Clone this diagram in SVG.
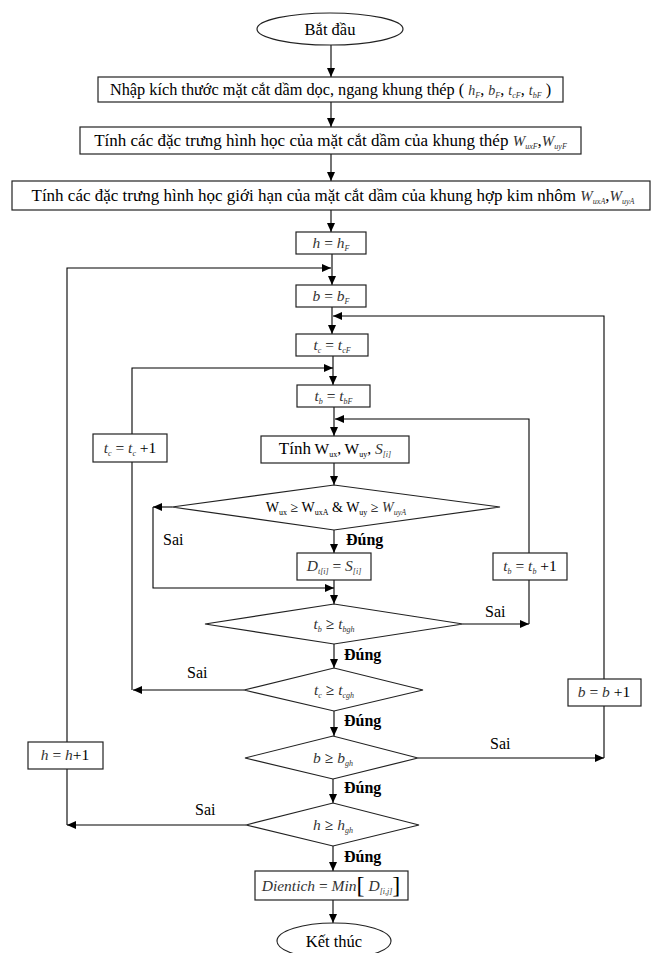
<svg xmlns="http://www.w3.org/2000/svg" width="654" height="953" viewBox="0 0 654 953">
<style>
.t{font-family:"Liberation Serif","Times New Roman",serif;font-size:15.5px;fill:#000}
.big{font-size:17px}
.c{text-anchor:middle}
.m{font-style:italic;fill:#333}
.mm{font-size:15px}
.s{font-size:8px}
.lb{font-family:"Liberation Serif","Times New Roman",serif;font-size:16px;fill:#000}
.b{font-weight:bold}
.n{fill:#fff;stroke:#222;stroke-width:1.2}
.e{fill:none;stroke:#000;stroke-width:1.1}
</style>
<defs>
<marker id="a" markerUnits="userSpaceOnUse" markerWidth="10" markerHeight="8" refX="9" refY="4" orient="auto">
<path d="M0,0 L9,4 L0,8 Z" fill="#000"/>
</marker>
</defs>
<g id="connectors">
<path class="e" d="M331,45 V77" marker-end="url(#a)"/>
<path class="e" d="M331,102 V127" marker-end="url(#a)"/>
<path class="e" d="M331,154 V181" marker-end="url(#a)"/>
<path class="e" d="M331,210 V232" marker-end="url(#a)"/>
<path class="e" d="M332,254 V285" marker-end="url(#a)"/>
<path class="e" d="M332,307 V334" marker-end="url(#a)"/>
<path class="e" d="M333,356 V385" marker-end="url(#a)"/>
<path class="e" d="M334,407 V436" marker-end="url(#a)"/>
<path class="e" d="M334,463 V485" marker-end="url(#a)"/>
<path class="e" d="M334,530 V553" marker-end="url(#a)"/>
<path class="e" d="M334,580 V604" marker-end="url(#a)"/>
<path class="e" d="M334,644 V668" marker-end="url(#a)"/>
<path class="e" d="M334,711 V736" marker-end="url(#a)"/>
<path class="e" d="M333,779 V803" marker-end="url(#a)"/>
<path class="e" d="M333,846 V871" marker-end="url(#a)"/>
<path class="e" d="M333,900 V923" marker-end="url(#a)"/>
<path class="e" d="M67,742 V268 H331" marker-end="url(#a)"/>
<path class="e" d="M246,825 H67" marker-end="url(#a)"/>
<path class="e" d="M67,825 V769"/>
<path class="e" d="M604,679 V316 H333" marker-end="url(#a)"/>
<path class="e" d="M418,758 H604" marker-end="url(#a)"/>
<path class="e" d="M604,758 V706"/>
<path class="e" d="M529,553 V419 H335" marker-end="url(#a)"/>
<path class="e" d="M463,624 H529" marker-end="url(#a)"/>
<path class="e" d="M529,624 V580"/>
<path class="e" d="M132,434 V368 H333" marker-end="url(#a)"/>
<path class="e" d="M244,690 H133" marker-end="url(#a)"/>
<path class="e" d="M132,690 V462"/>
<path class="e" d="M172,507 H153" marker-end="url(#a)"/>
<path class="e" d="M153,507 V588 H334" marker-end="url(#a)"/>
<text class="lb" x="163" y="545">Sai</text>
<text class="lb b" x="346" y="545">Đúng</text>
<text class="lb" x="485" y="617">Sai</text>
<text class="lb b" x="344" y="660">Đúng</text>
<text class="lb" x="187" y="678">Sai</text>
<text class="lb b" x="344" y="726">Đúng</text>
<text class="lb" x="490" y="749">Sai</text>
<text class="lb b" x="344" y="793">Đúng</text>
<text class="lb" x="195" y="815">Sai</text>
<text class="lb b" x="344" y="862">Đúng</text>
</g>
<g id="start">
<ellipse class="n" cx="330" cy="29" rx="73" ry="16"/>
<text class="t c" x="330" y="35" style="font-size:16.5px">Bắt đầu</text>
</g>
<g id="input">
<rect class="n" x="98" y="77" width="465" height="25"/>
<text class="t c" x="330.5" y="95" style="font-size:16.3px">Nhập kích thước mặt cắt dầm dọc, ngang khung thép ( <tspan class="m" style="font-size:14px">h</tspan><tspan class="m s" dy="3">F</tspan><tspan dy="-3">, </tspan><tspan class="m" style="font-size:14px">b</tspan><tspan class="m s" dy="3">F</tspan><tspan dy="-3">, </tspan><tspan class="m" style="font-size:14px">t</tspan><tspan class="m s" dy="3">cF</tspan><tspan dy="-3">, </tspan><tspan class="m" style="font-size:14px">t</tspan><tspan class="m s" dy="3">bF</tspan><tspan dy="-3">  )</tspan></text>
</g>
<g id="calc-steel">
<rect class="n" x="80" y="127" width="501" height="27"/>
<text class="t big c" x="330.5" y="146">Tính các đặc trưng hình học của mặt cắt dầm của khung thép <tspan class="m mm">W</tspan><tspan class="m s" dy="3">uxF</tspan><tspan dy="-3">,</tspan><tspan class="m mm">W</tspan><tspan class="m s" dy="3">uyF</tspan></text>
</g>
<g id="calc-alu">
<rect class="n" x="12" y="181" width="638" height="29"/>
<text class="t big c" x="333" y="201">Tính các đặc trưng hình học giới hạn của mặt cắt dầm của khung hợp kim nhôm <tspan class="m mm">W</tspan><tspan class="m s" dy="3">uxA</tspan><tspan dy="-3">,</tspan><tspan class="m mm">W</tspan><tspan class="m s" dy="3">uyA</tspan></text>
</g>
<g id="h-init">
<rect class="n" x="296" y="232" width="70" height="22"/>
<text class="t c" x="331" y="248"><tspan class="m">h</tspan> = <tspan class="m">h</tspan><tspan class="m s" dy="3">F</tspan></text>
</g>
<g id="b-init">
<rect class="n" x="296" y="285" width="70" height="22"/>
<text class="t c" x="331" y="301"><tspan class="m">b</tspan> = <tspan class="m">b</tspan><tspan class="m s" dy="3">F</tspan></text>
</g>
<g id="tc-init">
<rect class="n" x="296" y="334" width="72" height="22"/>
<text class="t c" x="332" y="350"><tspan class="m">t</tspan><tspan class="m s" dy="3">c</tspan><tspan dy="-3"> = </tspan><tspan class="m">t</tspan><tspan class="m s" dy="3">cF</tspan></text>
</g>
<g id="tb-init">
<rect class="n" x="297" y="385" width="73" height="22"/>
<text class="t c" x="333.5" y="401"><tspan class="m">t</tspan><tspan class="m s" dy="3">b</tspan><tspan dy="-3"> = </tspan><tspan class="m">t</tspan><tspan class="m s" dy="3">bF</tspan></text>
</g>
<g id="compute">
<rect class="n" x="261" y="436" width="148" height="27"/>
<text class="t c" x="335" y="454"><tspan style="font-size:17px">Tính</tspan>  W<tspan class="s" dy="3">ux</tspan><tspan dy="-3">, W</tspan><tspan class="s" dy="3">uy</tspan><tspan dy="-3">, </tspan><tspan class="m">S</tspan><tspan class="m s" dy="3">[i]</tspan></text>
</g>
<g id="tc-inc">
<rect class="n" x="93" y="434" width="74" height="28"/>
<text class="t c" x="130" y="453"><tspan class="m">t</tspan><tspan class="m s" dy="3">c</tspan><tspan dy="-3"> = </tspan><tspan class="m">t</tspan><tspan class="m s" dy="3">c</tspan><tspan dy="-3"> +1</tspan></text>
</g>
<g id="check-w">
<polygon class="n" points="172,507 334,485 500,507 334,530"/>
<text class="t c" x="336" y="512" style="font-size:14px">W<tspan class="s" dy="3">ux</tspan><tspan dy="-3"> ≥ W</tspan><tspan class="s" dy="3">uxA</tspan><tspan dy="-3"> &amp; W</tspan><tspan class="s" dy="3">uy</tspan><tspan dy="-3"> ≥ </tspan><tspan class="m">W</tspan><tspan class="m s" dy="3">uyA</tspan></text>
</g>
<g id="store">
<rect class="n" x="297" y="553" width="74" height="27"/>
<text class="t c" x="334" y="571"><tspan class="m">D</tspan><tspan class="m s" dy="3">t[i]</tspan><tspan dy="-3"> = </tspan><tspan class="m">S</tspan><tspan class="m s" dy="3">[i]</tspan></text>
</g>
<g id="tb-inc">
<rect class="n" x="493" y="553" width="74" height="27"/>
<text class="t c" x="530" y="571"><tspan class="m">t</tspan><tspan class="m s" dy="3">b</tspan><tspan dy="-3"> = </tspan><tspan class="m">t</tspan><tspan class="m s" dy="3">b</tspan><tspan dy="-3"> +1</tspan></text>
</g>
<g id="check-tb">
<polygon class="n" points="205,624 334,604 463,624 334,644"/>
<text class="t c" x="334" y="629"><tspan class="m">t</tspan><tspan class="m s" dy="3">b</tspan><tspan dy="-3"> ≥ </tspan><tspan class="m">t</tspan><tspan class="m s" dy="3">bgh</tspan></text>
</g>
<g id="check-tc">
<polygon class="n" points="244,690 334,668 423,690 334,711"/>
<text class="t c" x="334" y="695"><tspan class="m">t</tspan><tspan class="m s" dy="3">c</tspan><tspan dy="-3"> ≥ </tspan><tspan class="m">t</tspan><tspan class="m s" dy="3">cgh</tspan></text>
</g>
<g id="b-inc">
<rect class="n" x="568" y="679" width="73" height="27"/>
<text class="t c" x="604" y="697"><tspan class="m">b</tspan> = <tspan class="m">b</tspan> +1</text>
</g>
<g id="check-b">
<polygon class="n" points="245,758 333,736 418,758 333,779"/>
<text class="t c" x="333" y="763"><tspan class="m">b</tspan> ≥ <tspan class="m">b</tspan><tspan class="m s" dy="3">gh</tspan></text>
</g>
<g id="h-inc">
<rect class="n" x="28" y="742" width="75" height="27"/>
<text class="t c" x="65" y="760"><tspan class="m">h</tspan> = <tspan class="m">h</tspan>+1</text>
</g>
<g id="check-h">
<polygon class="n" points="246,825 333,803 419,825 333,846"/>
<text class="t c" x="333" y="830"><tspan class="m">h</tspan> ≥ <tspan class="m">h</tspan><tspan class="m s" dy="3">gh</tspan></text>
</g>
<g id="result">
<rect class="n" x="255" y="871" width="153" height="29"/>
<text class="t c" x="331" y="891"><tspan class="m">Dientich</tspan> = <tspan class="m">Min</tspan><tspan style="font-size:24px" dy="2">[</tspan><tspan class="m" dy="-2"> D</tspan><tspan class="m s" dy="3">[i,j]</tspan><tspan style="font-size:24px" dy="-1">]</tspan></text>
</g>
<g id="end">
<ellipse class="n" cx="334" cy="941" rx="57" ry="18"/>
<text class="t c" x="334" y="947" style="font-size:16.5px">Kết thúc</text>
</g>
</svg>
